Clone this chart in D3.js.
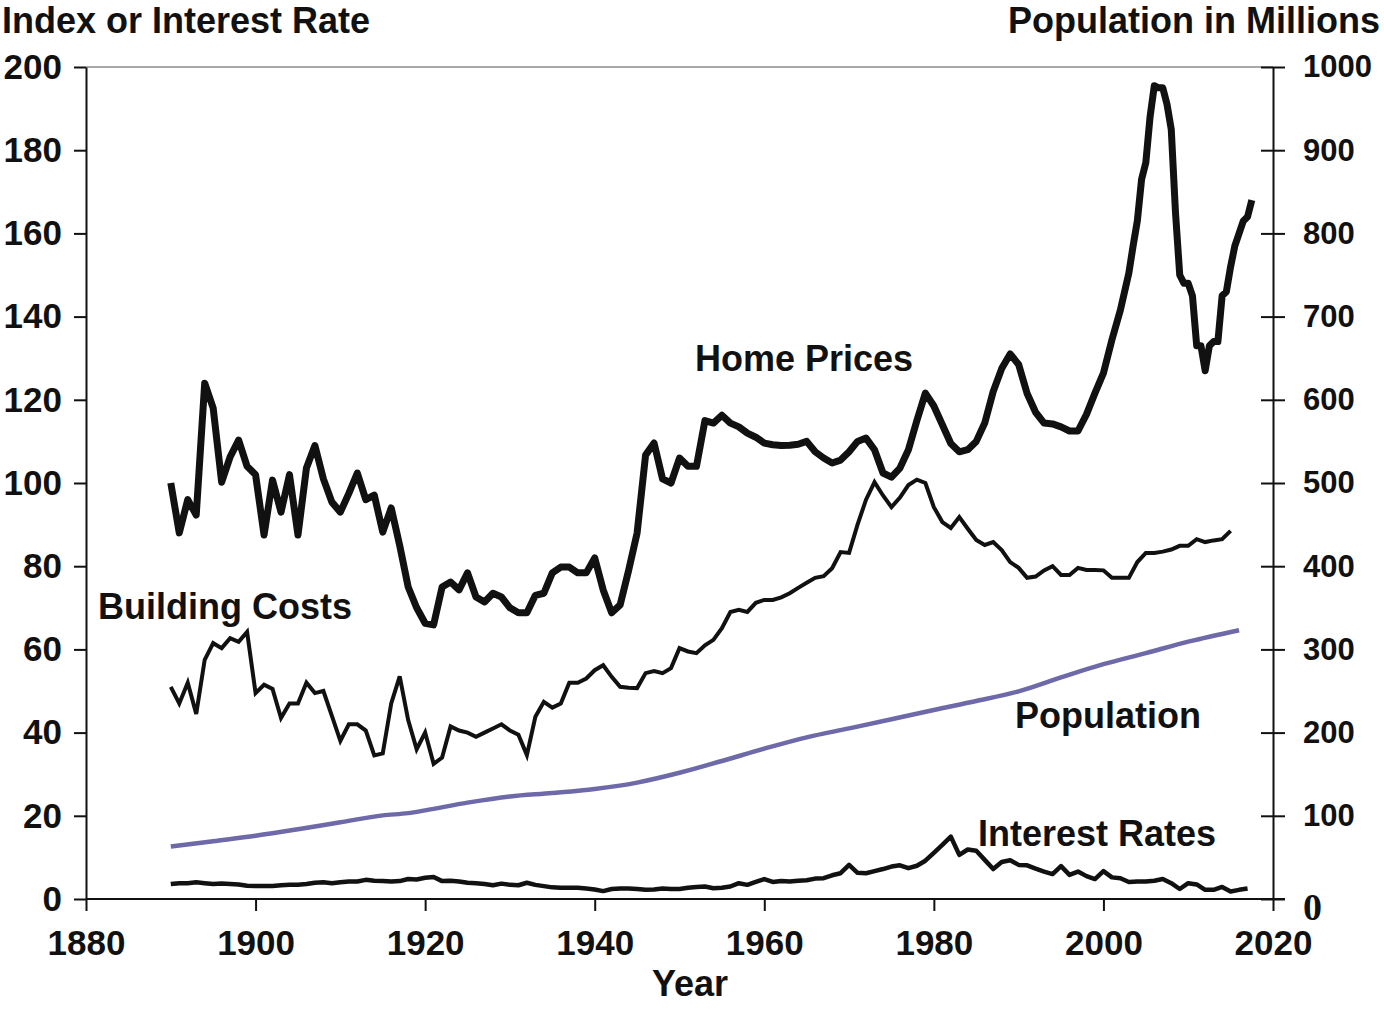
<!DOCTYPE html>
<html>
<head>
<meta charset="utf-8">
<script src="https://cdn.jsdelivr.net/npm/d3@7"></script>
<style>
  body { margin: 0; background: #fff; }
  svg text { font-family: "Liberation Sans", Arial, sans-serif; font-weight: bold; fill: #111; }
</style>
</head>
<body>
<div id="chart"></div>
<script>
// home prices (left axis, index)
var homeYears = [1890,1891,1892,1893,1894,1895,1896,1897,1898,1899,1900,1901,1902,1903,1904,1905,1906,1907,1908,1909,
  1910,1911,1912,1913,1914,1915,1916,1917,1918,1919,1920,1921,1922,1923,1924,1925,1926,1927,1928,1929,
  1930,1931,1932,1933,1934,1935,1936,1937,1938,1939,1940,1941,1942,1943,1944,1945,1946,1947,1948,1949,
  1950,1951,1952,1953,1954,1955,1956,1957,1958,1959,1960,1961,1962,1963,1964,1965,1966,1967,1968,1969,
  1970,1971,1972,1973,1974,1975,1976,1977,1978,1979,1980,1981,1982,1983,1984,1985,1986,1987,1988,1989,
  1990,1991,1992,1993,1994,1995,1996,1997,1998,1999,2000,2001,2002,2003,2003.5,2004,2004.5,2005,2005.5,
  2006,2006.5,2007,2007.5,2008,2008.5,2009,2009.5,2010,2010.5,2011,2011.5,2012,2012.5,2013,2013.5,
  2014,2014.5,2015,2015.5,2016,2016.5,2017,2017.5];
var homePrices = [100,88,96,92.3,124,118,100.2,106.3,110.3,104,102,87.5,100.7,93,102,87.5,103.6,109,101,95.4,
  93,97.5,102.4,96,97.1,88.2,94,85,75,70,66.3,65.9,75,76.2,74.3,78.4,72.6,71.4,73.5,72.6,
  70,68.8,68.8,73,73.5,78.4,79.8,79.8,78.4,78.4,82,74.3,68.8,70.7,79,88,106.7,109.6,101,100,
  106,104,104,115,114.4,116.3,114.4,113.5,112,111,109.6,109.2,109,109.1,109.3,110,107.5,106,104.8,105.5,
  107.5,110,110.8,108,102.4,101.4,103.6,108,115,121.6,118.5,114,109.5,107.5,108,110,114.4,122,127.5,131,
  128.5,121.5,117,114.4,114.2,113.5,112.5,112.5,116.5,121.6,126.4,134.4,141.6,150.5,157,163,173,177,188,
  195.5,195,195,191,185,165,150,148,148,145,133,133,127,133,134,134,
  145,146,152,157,160,163,164,168];

// building costs (left axis, index)
var costYears = d3.range(1890, 2016);
var buildingCosts = [51,47,52,44.5,57.5,61.5,60.3,62.7,61.8,64.2,49.5,51.5,50.5,43.5,47,47,52,49.5,50,44,
  38,42,42,40.5,34.5,35,47,53.5,43,36,40,32.5,34,41.5,40.5,40,39,40,41,42,
  40.5,39.5,34.6,43.8,47.4,46,47,52,52,53,55,56.2,53.4,51,50.8,50.7,54.3,54.8,54.3,55.5,
  60.3,59.5,59.1,61,62.3,65.1,69,69.5,69,71.2,71.9,71.9,72.5,73.5,74.8,76,77.2,77.6,79.5,83.4,
  83.2,90,96,100.2,97,94.2,96.5,99.5,100.8,100,94.2,90.6,89.2,91.8,89,86.3,85.1,85.8,83.9,81,
  79.6,77.2,77.5,79,80,77.9,77.9,79.6,79.1,79.1,79,77.2,77.2,77.2,81,83.2,83.2,83.5,84,84.9,
  84.9,86.5,85.8,86.2,86.5,88.5];

// long-term interest rates (left axis, percent)
var rateYears = d3.range(1890, 2018);
var interestRates = [3.6,3.8,3.8,4.0,3.8,3.6,3.7,3.6,3.5,3.2,3.1,3.1,3.1,3.3,3.4,3.4,3.6,3.9,4.0,3.8,
  4.0,4.2,4.2,4.6,4.4,4.3,4.2,4.3,4.8,4.7,5.1,5.3,4.3,4.4,4.2,3.9,3.8,3.6,3.3,3.7,
  3.4,3.3,3.9,3.4,3.1,2.8,2.7,2.7,2.7,2.5,2.3,1.9,2.4,2.5,2.5,2.4,2.2,2.3,2.5,2.4,
  2.4,2.7,2.9,3.0,2.6,2.7,3.0,3.8,3.4,4.1,4.8,4.1,4.3,4.2,4.4,4.5,4.9,5.0,5.7,6.2,
  8.2,6.3,6.2,6.7,7.2,7.8,8.1,7.4,8.0,9.2,11.1,13.0,15.0,10.6,11.9,11.6,9.4,7.2,8.9,9.3,
  8.2,8.1,7.3,6.6,6.0,7.9,5.8,6.6,5.5,4.8,6.7,5.2,5.0,4.1,4.2,4.2,4.4,4.8,3.8,2.4,
  3.8,3.5,2.2,2.2,2.9,1.8,2.2,2.5];

// US population in millions (right axis)
var popYears = [1890,1895,1900,1905,1910,1915,1918,1920,1925,1930,1935,1940,1945,1950,1955,1960,1965,1970,1975,1980,1985,1990,1995,2000,2005,2010,2016];
var population = [63,69.5,76,83.8,92.2,100.5,103.2,106.5,115.8,123.2,127.3,132.2,139.9,151.7,165.9,180.7,194.3,205.1,216,227.2,237.9,249.6,266.3,282.2,295.5,309.3,323.1];

var xTicks = [1880,1900,1920,1940,1960,1980,2000,2020];
var leftTicks = [0,20,40,60,80,100,120,140,160,180,200];
var rightTicks = [0,100,200,300,400,500,600,700,800,900,1000];

var W = 1384, H = 1009;
var mLeft = 86, mRight = 1273, mTop = 67, mBottom = 899;

var x = d3.scaleLinear().domain([1880, 2020]).range([mLeft, mRight]);
var yL = d3.scaleLinear().domain([0, 200]).range([mBottom, mTop]);
var yR = d3.scaleLinear().domain([0, 1000]).range([mBottom, mTop]);

var svg = d3.select("#chart").append("svg").attr("width", W).attr("height", H);

// light top border
svg.append("line")
  .attr("x1", mLeft).attr("x2", mRight).attr("y1", mTop).attr("y2", mTop)
  .attr("stroke", "#a8a8a8").attr("stroke-width", 2);

function pairs(xs, ys) { return xs.map(function(d, i) { return [d, ys[i]]; }); }

var lineL = d3.line().x(function(d) { return x(d[0]); }).y(function(d) { return yL(d[1]); });
var lineR = d3.line().x(function(d) { return x(d[0]); }).y(function(d) { return yR(d[1]); }).curve(d3.curveMonotoneX);

svg.append("path").datum(pairs(popYears, population))
  .attr("d", lineR).attr("fill", "none")
  .attr("stroke", "#6e69a9").attr("stroke-width", 4.5);

svg.append("path").datum(pairs(rateYears, interestRates))
  .attr("d", lineL).attr("fill", "none")
  .attr("stroke", "#111").attr("stroke-width", 4.5).attr("stroke-linejoin", "round");

svg.append("path").datum(pairs(costYears, buildingCosts))
  .attr("d", lineL).attr("fill", "none")
  .attr("stroke", "#111").attr("stroke-width", 4).attr("stroke-linejoin", "miter");

svg.append("path").datum(pairs(homeYears, homePrices))
  .attr("d", lineL).attr("fill", "none")
  .attr("stroke", "#111").attr("stroke-width", 7).attr("stroke-linejoin", "round");

// axes
var gx = svg.append("g").attr("transform", "translate(0," + mBottom + ")")
  .call(d3.axisBottom(x).tickValues(xTicks).tickFormat(d3.format("d")).tickSize(12).tickSizeOuter(0).tickPadding(19));
var gl = svg.append("g").attr("transform", "translate(" + mLeft + ",0)")
  .call(d3.axisLeft(yL).tickValues(leftTicks).tickSize(12).tickSizeOuter(0).tickPadding(12));
var gr = svg.append("g").attr("transform", "translate(" + mRight + ",0)")
  .call(d3.axisRight(yR).tickValues(rightTicks).tickFormat(d3.format("d")).tickSize(12).tickSizeOuter(0).tickPadding(18));

gr.selectAll(".tick line").attr("x1", -12);

[gx, gl, gr].forEach(function(g) {
  g.select(".domain").attr("stroke", "#111").attr("stroke-width", 2);
  g.selectAll(".tick line").attr("stroke", "#111").attr("stroke-width", 2);
  g.selectAll(".tick text")
    .style("font-family", "'Liberation Sans', Arial, sans-serif")
    .style("font-weight", "bold").style("font-size", "35px").attr("fill", "#111");
});
gr.selectAll(".tick text").style("font-size", "31px");
gx.select(".domain").attr("d", "M" + mLeft + ",0H" + (mRight + 12));

// the bottom right zero is set in a serif face in the original
gr.selectAll(".tick text").filter(function(d) { return d === 0; })
  .style("font-family", "'Liberation Serif', 'Times New Roman', serif")
  .style("font-size", "38px").attr("dy", "0.55em");

// titles and series labels
function label(txt, px, py, anchor) {
  svg.append("text").attr("x", px).attr("y", py).attr("text-anchor", anchor || "start")
    .style("font-size", "36px").text(txt);
}
label("Index or Interest Rate", 2, 33);
label("Population in Millions", 1380, 33, "end");
label("Year", 690, 996, "middle");
label("Home Prices", 695, 371);
label("Building Costs", 98, 619);
label("Population", 1015, 728);
label("Interest Rates", 978, 846);
</script>
</body>
</html>
